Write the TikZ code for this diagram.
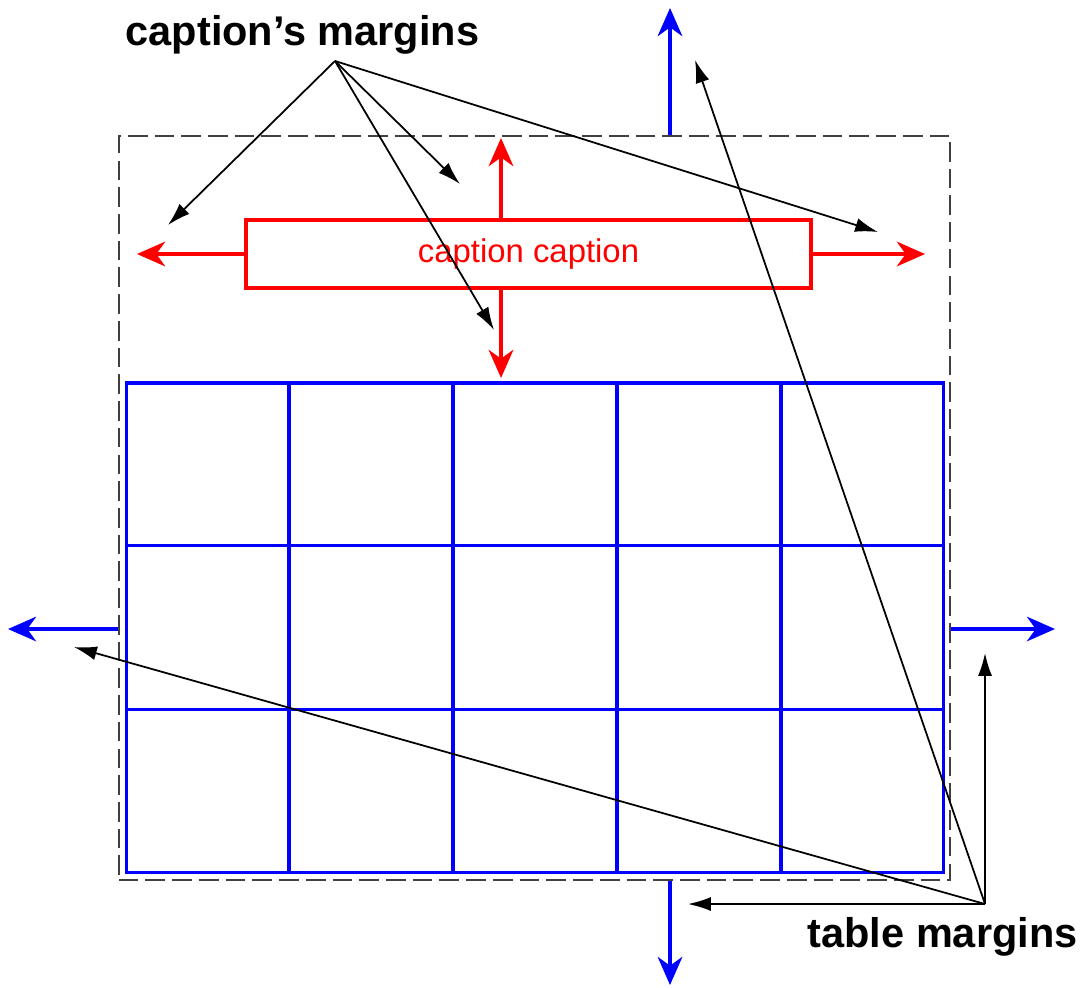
\documentclass[tikz,border=0pt]{standalone}
\usepackage{fontspec}
\setmainfont{Liberation Sans}
\usepackage{tikz}
\usetikzlibrary{arrows.meta, calc}

\begin{document}
\begin{tikzpicture}[x=0.01cm, y=-0.01cm,
        marginlabel/.style={font=\fontsize{11.8}{14}\selectfont\bfseries, anchor=base west, inner sep=0pt},
        capbox/.style={
            rectangle, draw=red, line width=1.1pt, text=red,
            font=\fontsize{9.35}{11}\selectfont,
            minimum width=5.65cm, minimum height=0.68cm, inner sep=0pt
        },
        tablebox/.style={
            rectangle, draw=blue, line width=0.95pt,
            minimum width=8.16cm, minimum height=4.89cm, inner sep=0pt
        },
        framebox/.style={
            rectangle, draw=black!75, line width=0.6pt,
            dash pattern=on 5.6pt off 2pt,
            minimum width=8.31cm, minimum height=7.44cm, inner sep=0pt
        },
        gridline/.style={draw=blue, line width=0.95pt},
        redarrow/.style={draw=red, line width=1.1pt, -{Stealth[length=8pt, width=7pt, inset=2.5pt]}},
        bluearrow/.style={draw=blue, line width=0.95pt, -{Stealth[length=8pt, width=7pt, inset=2.5pt]}},
        pointer/.style={draw=black, line width=0.5pt, -{Latex[length=6.5pt, width=4pt]}}
    ]
        \useasboundingbox (0,0) rectangle (1083,987);

        % frame, table and caption
        \node[framebox] (frame) at (534.5,508) {};
        \node[tablebox] (tab) at (535,627.5) {};
        \foreach \i in {1,...,4}
            \draw[gridline] ($(tab.north west)!\i/5!(tab.north east)$) -- ($(tab.south west)!\i/5!(tab.south east)$);
        \foreach \i in {1,2}
            \draw[gridline] ($(tab.north west)!\i/3!(tab.south west)$) -- ($(tab.north east)!\i/3!(tab.south east)$);
        \node[capbox] (cap) at (528.5,254) {caption caption};

        % caption margins
        \coordinate (capup) at (501,138);
        \coordinate (capdown) at (501,378);
        \coordinate (capleft) at (137,254);
        \coordinate (capright) at (925,254);
        \draw[redarrow] (capup |- cap.north) -- (capup);
        \draw[redarrow] (capdown |- cap.south) -- (capdown);
        \draw[redarrow] (cap.west) -- (capleft);
        \draw[redarrow] (cap.east) -- (capright);

        % table margins
        \coordinate (tabup) at (670,8);
        \coordinate (tabdown) at (670,985);
        \coordinate (tableft) at (8,629);
        \coordinate (tabright) at (1055,629);
        \draw[bluearrow] (tabup |- frame.north) -- (tabup);
        \draw[bluearrow] (tabdown |- frame.south) -- (tabdown);
        \draw[bluearrow] (tableft -| frame.west) -- (tableft);
        \draw[bluearrow] (tabright -| frame.east) -- (tabright);

        % labels
        \node[marginlabel] (caplabel) at (125,45) {caption’s margins};
        \node[marginlabel] (tablabel) at (807,947) {table margins};

        \coordinate (caphub) at (335,61);
        \coordinate (cp1) at (168,225);
        \coordinate (cp2) at (460,184);
        \coordinate (cp3) at (494,330);
        \coordinate (cp4) at (878,232);
        \foreach \p in {cp1, cp2, cp3, cp4}
            \draw[pointer] (caphub) -- (\p);

        \coordinate (tabhub) at (985,904);
        \coordinate (tp1) at (688,904);
        \coordinate (tp2) at (985,653);
        \coordinate (tp3) at (695,60);
        \coordinate (tp4) at (74,647);
        \foreach \p in {tp1, tp2, tp3, tp4}
            \draw[pointer] (tabhub) -- (\p);
    \end{tikzpicture}
\end{document}
